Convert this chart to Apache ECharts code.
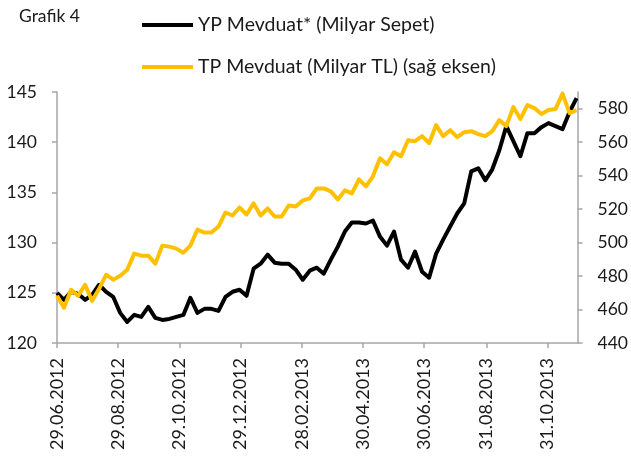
<!DOCTYPE html>
<html>
<head>
<meta charset="utf-8">
<script src="https://cdn.jsdelivr.net/npm/echarts@6/dist/echarts.min.js"></script>
<style>
  html, body { margin: 0; padding: 0; background: #fff; }
  #chart { width: 631px; height: 459px; }
</style>
</head>
<body>
<div id="chart"></div>
<script>
// haftalik veri, 29.06.2012 cuma gununden baslar
const startDate = [2012, 5, 29]
const endDate = [2013, 10, 30]

// x ekseni etiketleri (2 ayda bir)
const tickLabels = ['29.06.2012', '29.08.2012', '29.10.2012', '29.12.2012', '28.02.2013',
  '30.04.2013', '30.06.2013', '31.08.2013', '31.10.2013']

// YP Mevduat* (Milyar Sepet) - sol eksen
const ypMevduat = [
  125.0, 124.3, 125.1, 124.9, 124.3, 124.8, 125.8, 125.1, 124.6, 123.0,
  122.1, 122.8, 122.6, 123.6, 122.5, 122.3, 122.4, 122.6, 122.8, 124.5,
  123.0, 123.4, 123.4, 123.2, 124.6, 125.1, 125.3, 124.7, 127.4, 127.9,
  128.8, 128.0, 127.9, 127.9, 127.3, 126.3, 127.2, 127.5, 126.9, 128.3,
  129.6, 131.1, 132.0, 132.0, 131.9, 132.2, 130.6, 129.7, 131.1, 128.3,
  127.5, 129.1, 127.1, 126.5, 128.9, 130.3, 131.6, 132.9, 133.9, 137.1,
  137.4, 136.2, 137.3, 139.2, 141.6, 140.1, 138.6, 140.9, 140.9, 141.5,
  141.9, 141.6, 141.3, 143.0, 144.4
]

// TP Mevduat (Milyar TL) - sag eksen
const tpMevduat = [
  468.2, 461.0, 471.8, 468.2, 474.8, 465.2, 472.4, 480.8, 477.8, 480.2,
  483.8, 493.4, 492.2, 492.2, 487.4, 498.2, 497.6, 496.4, 494.0, 498.2,
  507.8, 506.0, 506.0, 509.6, 518.0, 516.2, 521.0, 516.8, 523.4, 516.2,
  520.4, 515.6, 515.6, 522.2, 521.6, 525.2, 526.4, 532.4, 532.4, 530.6,
  525.8, 531.2, 529.4, 537.8, 533.6, 539.6, 550.4, 546.8, 554.0, 551.6,
  561.2, 560.6, 563.6, 559.4, 570.2, 563.6, 567.2, 563.0, 566.0, 566.6,
  564.8, 563.6, 566.6, 573.2, 569.6, 581.0, 573.8, 582.2, 580.4, 576.8,
  579.2, 579.8, 589.0, 577.4, 579.2
]

const DAY = 86400000
const t0 = Date.UTC(startDate[0], startDate[1], startDate[2])
const tEnd = Date.UTC(endDate[0], endDate[1], endDate[2])

// "gg.aa.yyyy" -> baslangictan itibaren gun sayisi
const toDay = (s) => {
  const p = s.split('.')
  return Math.round((Date.UTC(+p[2], +p[1] - 1, +p[0]) - t0) / DAY)
}
const tickDays = tickLabels.map(toDay)
const lastDay = Math.round((tEnd - t0) / DAY)

// haftalik gunler
const weekDays = ypMevduat.map((v, i) => i * 7)

const textColor = '#1a1a1a'
const axisColor = '#a6a6a6'

const chart = echarts.init(document.getElementById('chart'))

const option = {
  animation: false,
  textStyle: { fontFamily: 'Lato' },
  title: {
    text: 'Grafik 4',
    left: 14,
    top: 2,
    textStyle: { fontSize: 17.5, fontWeight: 'normal', color: textColor, fontFamily: 'Lato' }
  },
  legend: {
    orient: 'vertical',
    left: 142,
    top: 14,
    padding: 0,
    itemWidth: 51,
    itemHeight: 4,
    itemGap: 20,
    icon: 'rect',
    data: ['YP Mevduat* (Milyar Sepet)', 'TP Mevduat (Milyar TL) (sağ eksen)'],
    textStyle: { fontSize: 19.5, color: textColor, lineHeight: 22, fontFamily: 'Lato' }
  },
  grid: { left: 57, right: 51, top: 92, bottom: 116 },
  xAxis: {
    type: 'value',
    min: 0,
    max: lastDay,
    splitLine: { show: false },
    axisLine: { lineStyle: { color: axisColor, width: 1.5 } },
    axisTick: {
      show: true,
      customValues: tickDays,
      length: 5,
      lineStyle: { color: axisColor, width: 1.5 }
    },
    axisLabel: {
      customValues: tickDays,
      rotate: 90,
      margin: 15,
      fontSize: 18,
      color: textColor,
      formatter: (val) => {
        const i = tickDays.indexOf(Math.round(val))
        return i >= 0 ? tickLabels[i] : ''
      }
    }
  },
  yAxis: [
    {
      type: 'value',
      min: 120,
      max: 145,
      interval: 5,
      splitLine: { show: false },
      axisLine: { show: true, lineStyle: { color: axisColor, width: 1.5 } },
      axisTick: { show: true, length: 5, lineStyle: { color: axisColor, width: 1.5 } },
      axisLabel: { fontSize: 17.5, color: textColor, margin: 20 }
    },
    {
      type: 'value',
      min: 440,
      max: 590,
      interval: 20,
      position: 'right',
      splitLine: { show: false },
      axisLine: { show: true, lineStyle: { color: axisColor, width: 1.5 } },
      axisTick: { show: true, length: 5, lineStyle: { color: axisColor, width: 1.5 } },
      axisLabel: { fontSize: 17.5, color: textColor, margin: 20, showMaxLabel: false }
    }
  ],
  series: [
    {
      name: 'YP Mevduat* (Milyar Sepet)',
      type: 'line',
      yAxisIndex: 0,
      showSymbol: false,
      symbol: 'none',
      color: '#000000',
      lineStyle: { width: 4, color: '#000000', join: 'round' },
      data: ypMevduat.map((v, i) => [weekDays[i], v])
    },
    {
      name: 'TP Mevduat (Milyar TL) (sağ eksen)',
      type: 'line',
      yAxisIndex: 1,
      showSymbol: false,
      symbol: 'none',
      color: '#ffc000',
      lineStyle: { width: 4, color: '#ffc000', join: 'round' },
      data: tpMevduat.map((v, i) => [weekDays[i], v])
    }
  ]
}

chart.setOption(option)
</script>
</body>
</html>
